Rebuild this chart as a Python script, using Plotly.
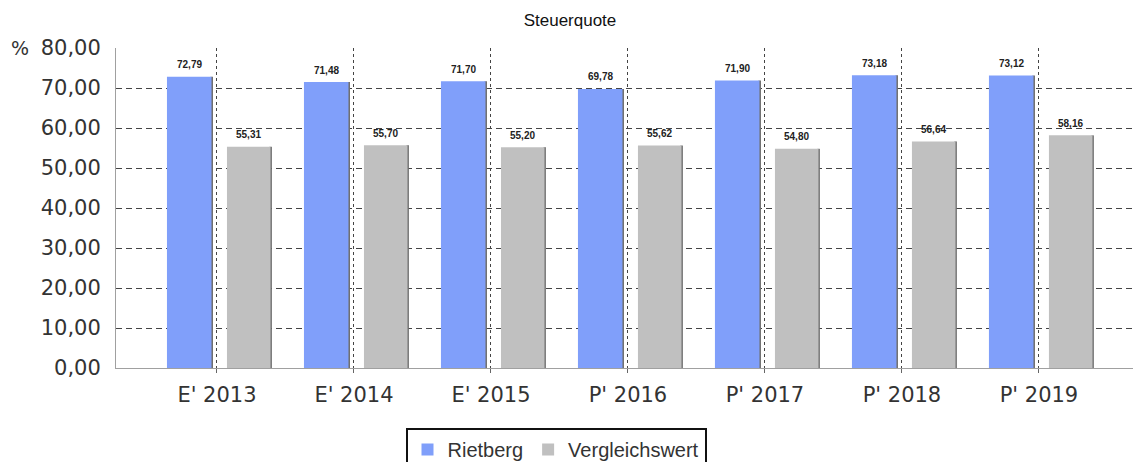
import plotly.graph_objects as go

categories = ["E' 2013", "E' 2014", "E' 2015", "P' 2016", "P' 2017", "P' 2018", "P' 2019"]
rietberg = [72.79, 71.48, 71.70, 69.78, 71.90, 73.18, 73.12]
vergleich = [55.31, 55.70, 55.20, 55.62, 54.80, 56.64, 58.16]
y_ticks = [0, 10, 20, 30, 40, 50, 60, 70, 80]

idx = list(range(len(categories)))
fmt = lambda v: f"{v:.2f}".replace(".", ",")

BLUE = "#809ffa"
GRAY = "#c0c0c0"

# the page body has an 8px margin, so the figure is drawn 8px in from the corner
W, H = 1133, 454
L, T, B = 108, 40, 94
PW, PH = W - L, H - T - B

OFF_B, WID_B = -0.365, 0.325
OFF_G, WID_G = 0.073, 0.318

fig = go.Figure()
# shadows (3D effect on right edge)
fig.add_trace(go.Bar(x=idx, y=rietberg, offset=OFF_B + WID_B - 0.007, width=0.018,
                     marker=dict(color="#6f6f6f", line_width=0), showlegend=False, hoverinfo="skip"))
fig.add_trace(go.Bar(x=idx, y=vergleich, offset=OFF_G + WID_G - 0.008, width=0.018,
                     marker=dict(color="#6f6f6f", line_width=0), showlegend=False, hoverinfo="skip"))
fig.add_trace(go.Bar(x=idx, y=rietberg, name="Rietberg", offset=OFF_B, width=WID_B,
                     marker=dict(color=BLUE, line_width=0)))
fig.add_trace(go.Bar(x=idx, y=vergleich, name="Vergleichswert", offset=OFF_G, width=WID_G,
                     marker=dict(color=GRAY, line_width=0)))

annotations = []
for series, off, wid in ((rietberg, OFF_B, WID_B), (vergleich, OFF_G, WID_G)):
    for i, v in zip(idx, series):
        annotations.append(dict(text=fmt(v), x=i + off + wid / 2, y=v, xref="x", yref="y",
                                xanchor="center", yanchor="middle", yshift=12, showarrow=False,
                                font=dict(family="Liberation Sans", size=10, color="#222222",
                                          weight="bold")))
annotations.append(dict(text="%", x=(12 - L) / PW, y=1 + 0 / PH, xref="paper", yref="paper",
                        xanchor="center", yanchor="middle", showarrow=False,
                        font=dict(family="DejaVu Sans", size=19, color="#333333")))

fig.update_layout(
    width=W, height=H,
    margin=dict(l=L, r=0, t=T, b=B, autoexpand=False),
    plot_bgcolor="white", paper_bgcolor="white",
    barmode="overlay",
    separators=",.",
    title=dict(text="Steuerquote", x=562 / W, xref="container", xanchor="center",
               y=1 - 12 / H, yref="container", yanchor="middle", automargin=False,
               font=dict(family="Liberation Sans", size=17, color="#111111")),
    showlegend=True,
    legend=dict(orientation="h", x=(548 - L) / PW, xanchor="center", y=-60 / PH, yanchor="top",
                bordercolor="#111111", borderwidth=2,
                font=dict(family="Liberation Sans", size=20, color="#333333"),
                traceorder="normal", itemwidth=30, tracegroupgap=0),
    font=dict(family="DejaVu Sans", color="#333333"),
    annotations=annotations,
)

fig.update_xaxes(range=[-0.737, 6.745], tickvals=idx, ticktext=categories,
                 showgrid=True, gridcolor="#444444", griddash="3px,3px", gridwidth=1,
                 showline=True, linecolor="#a0a0a0", linewidth=1,
                 ticks="outside", ticklen=4, tickcolor="#666666",
                 ticklabelstandoff=4,
                 tickfont=dict(family="DejaVu Sans", size=21, color="#333333"),
                 zeroline=False, automargin=False)
fig.update_yaxes(range=[0, 80], tickvals=y_ticks, tickformat=".2f",
                 showgrid=True, gridcolor="#444444", griddash="6px,4px", gridwidth=1,
                 showline=True, linecolor="#a0a0a0", linewidth=1,
                 ticks="", ticklabelstandoff=10,
                 tickfont=dict(family="DejaVu Sans", size=21, color="#333333"),
                 zeroline=False, automargin=False)

fig.write_html("out.html")
